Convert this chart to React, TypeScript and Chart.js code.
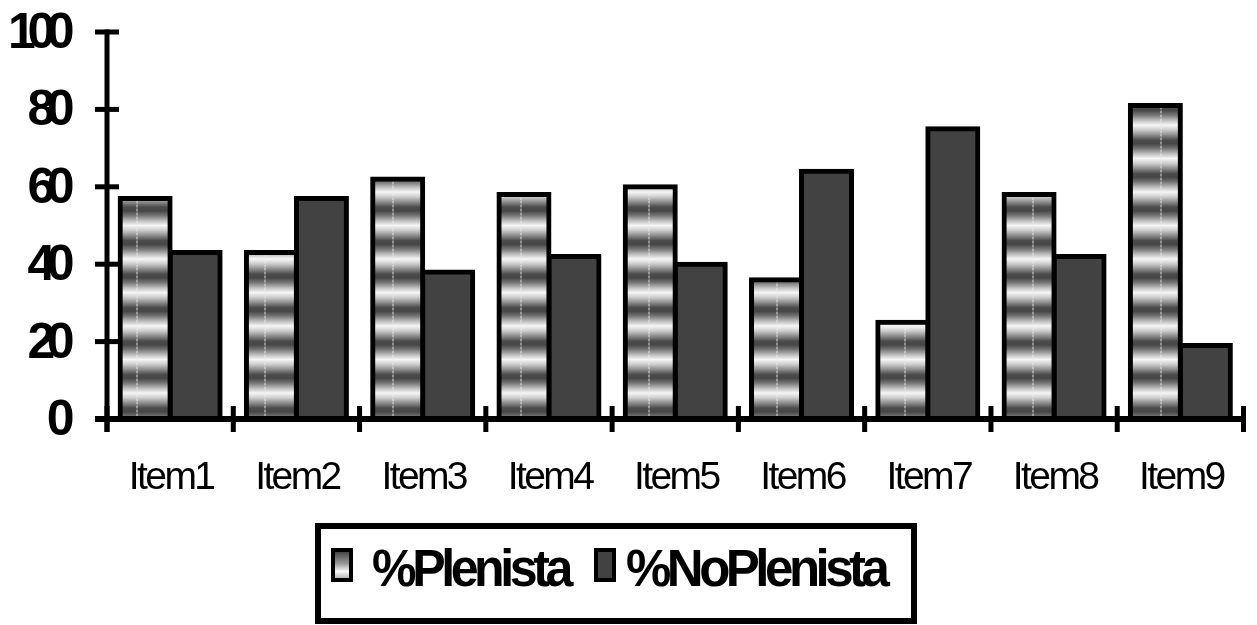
import React, { useEffect, useRef } from "react";
import { Chart, registerables } from "chart.js";

Chart.register(...registerables);

const categories = ["Item1", "Item2", "Item3", "Item4", "Item5", "Item6", "Item7", "Item8", "Item9"];
const plenista = [57, 43, 62, 58, 60, 36, 25, 58, 81];
const noPlenista = [43, 57, 38, 42, 40, 64, 75, 42, 19];
const yTicks = [0, 20, 40, 60, 80, 100];
const seriesLabels = ["%Plenista", "%NoPlenista"];

const FONT = '"Liberation Sans", Arial, Helvetica, sans-serif';

function makeStripePattern(ctx: CanvasRenderingContext2D): CanvasPattern | string {
  const c = document.createElement("canvas");
  c.width = 128;
  c.height = 67;
  const g = c.getContext("2d");
  if (!g) return "#999";
  const img = g.createImageData(128, 67);
  const stops: [number, number][] = [
    [0, 246], [0.14, 206], [0.3, 140], [0.45, 76], [0.56, 70], [0.7, 116], [0.85, 186], [1, 246],
  ];
  const shade = (p: number) => {
    for (let i = 1; i < stops.length; i++) {
      if (p <= stops[i][0]) {
        const [p0, v0] = stops[i - 1];
        const [p1, v1] = stops[i];
        return v0 + ((p - p0) / (p1 - p0)) * (v1 - v0);
      }
    }
    return stops[stops.length - 1][1];
  };
  const period = 33.5;
  for (let y = 0; y < 67; y++) {
    const ph = ((((y + 0.5 - 24.5) % period) + period) % period) / period;
    const v = shade(ph);
    for (let x = 0; x < 128; x++) {
      let val = v;
      if (x === 8 || x === 9) {
        val = y % 4 < 2 ? val * 0.55 + 235 * 0.45 : val * 0.8 + 235 * 0.2;
      }
      const i = (y * 128 + x) * 4;
      img.data[i] = val;
      img.data[i + 1] = val;
      img.data[i + 2] = val;
      img.data[i + 3] = 255;
    }
  }
  g.putImageData(img, 0, 0);
  return ctx.createPattern(c, "repeat") || "#999";
}

const excelPlugin = {
  id: "excelAxesLegend",
  afterDraw(chart: any) {
    const { ctx, chartArea: a, scales } = chart;
    const x = scales.x;
    const y = scales.y;
    const lw = 5;
    ctx.save();
    ctx.fillStyle = "#000";
    const y0 = y.getPixelForValue(0);
    const yTop = y.getPixelForValue(100);
    // value axis line
    ctx.fillRect(a.left - lw / 2, yTop - lw / 2, lw, y0 + 13 - (yTop - lw / 2));
    // value ticks (crossing the axis)
    yTicks.forEach((v) => {
      const py = y.getPixelForValue(v);
      ctx.fillRect(a.left - 12, py - lw / 2, 24, lw);
    });
    // category axis line
    ctx.fillRect(a.left - 12, y0 - 3, a.right + 2.5 - (a.left - 12), 6);
    // category ticks at boundaries
    const cw = x.getPixelForValue(1) - x.getPixelForValue(0);
    const first = x.getPixelForValue(0) - cw / 2;
    for (let i = 0; i <= categories.length; i++) {
      const bx = first + i * cw;
      ctx.fillRect(bx - lw / 2, y0 - 13, lw, 26);
    }

    // value labels
    ctx.font = `bold 50px ${FONT}`;
    (ctx as any).letterSpacing = "-8.5px";
    ctx.textAlign = "right";
    ctx.textBaseline = "alphabetic";
    yTicks.forEach((v) => {
      const py = y.getPixelForValue(v);
      ctx.fillText(String(v), 66, py + 16);
    });

    // category labels
    ctx.font = `39px ${FONT}`;
    (ctx as any).letterSpacing = "-2.6px";
    ctx.textAlign = "center";
    categories.forEach((c, i) => {
      ctx.fillText(c, x.getPixelForValue(i) + 1, y0 + 70);
    });

    // legend frame
    ctx.strokeStyle = "#000";
    ctx.lineWidth = 6;
    ctx.strokeRect(318, 526, 596, 95);

    // legend items
    const ds = chart.data.datasets;
    const sw = [331, 594];
    const tx = [372, 626];
    const tw = [197, 266];
    for (let k = 0; k < 2; k++) {
      ctx.fillStyle = "#000";
      ctx.fillRect(sw[k], 548, 22, 34);
      if (k === 0) {
        const gr = ctx.createLinearGradient(0, 552, 0, 578);
        gr.addColorStop(0, "#454545");
        gr.addColorStop(0.45, "#9a9a9a");
        gr.addColorStop(0.75, "#f8f8f8");
        gr.addColorStop(1, "#b8b8b8");
        ctx.fillStyle = gr;
      } else {
        ctx.fillStyle = ds[1].backgroundColor;
      }
      ctx.fillRect(sw[k] + 4, 552, 14, 26);
      ctx.fillStyle = "#000";
      ctx.font = `bold 51px ${FONT}`;
      (ctx as any).letterSpacing = "-4.5px";
      ctx.textAlign = "left";
      ctx.fillText(seriesLabels[k], tx[k], 586, tw[k]);
    }
    ctx.restore();
  },
};

export default function App() {
  const canvasRef = useRef<HTMLCanvasElement | null>(null);

  useEffect(() => {
    document.body.style.margin = "0";
    document.body.style.overflow = "hidden";
    const canvas = canvasRef.current;
    if (!canvas) return;
    const ctx = canvas.getContext("2d");
    if (!ctx) return;
    const pattern = makeStripePattern(ctx);

    const chart = new Chart(canvas, {
      type: "bar",
      data: {
        labels: categories,
        datasets: [
          {
            label: seriesLabels[0],
            data: plenista,
            backgroundColor: pattern as any,
            borderColor: "#000",
            borderWidth: 5,
            inflateAmount: 2.5,
            categoryPercentage: 0.792,
            barPercentage: 1.0,
          } as any,
          {
            label: seriesLabels[1],
            data: noPlenista,
            backgroundColor: "#424242",
            borderColor: "#000",
            borderWidth: 5,
            inflateAmount: 2.5,
            categoryPercentage: 0.792,
            barPercentage: 1.0,
          } as any,
        ],
      },
      options: {
        animation: false,
        responsive: false,
        devicePixelRatio: 1,
        layout: { padding: { left: 107, top: 32, right: 13.5, bottom: 206 } },
        scales: {
          x: { display: false, grid: { display: false } },
          y: { display: false, min: 0, max: 100, grid: { display: false } },
        },
        plugins: {
          legend: { display: false },
          tooltip: { enabled: false },
          title: { display: false },
        },
      },
      plugins: [excelPlugin],
    });
    return () => chart.destroy();
  }, []);

  return (
    <div style={{ width: 1257, height: 625, background: "#fff" }}>
      <canvas ref={canvasRef} width={1257} height={625} style={{ display: "block" }} />
    </div>
  );
}
